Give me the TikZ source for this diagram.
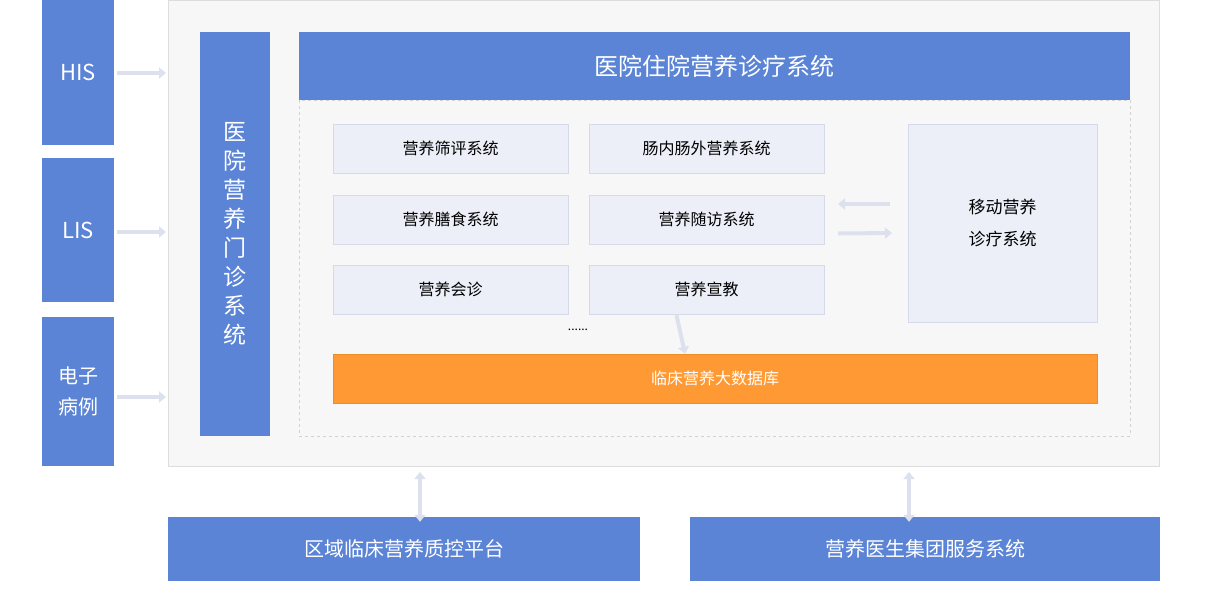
\documentclass[tikz,border=0pt]{standalone}
\usepackage{fontspec}
\setmainfont{Noto Sans CJK SC}
\usetikzlibrary{arrows.meta}
\definecolor{blueA}{HTML}{5B84D6}
\definecolor{grayArr}{HTML}{DDE1EE}
\definecolor{cellFill}{HTML}{ECEEF8}
\definecolor{cellLine}{HTML}{D6DAE8}
\definecolor{orangeA}{HTML}{FF9933}
\begin{document}
\begin{tikzpicture}[x=1pt,y=-1pt]
    \tikzset{bluebox/.style = {fill=blueA, text=white, inner sep=0pt},
        cell/.style  = {fill=cellFill, draw=cellLine, inner sep=0pt,
            minimum width=235pt, minimum height=49pt, font=\fontsize{16}{18}\selectfont},
        flow/.style  = {grayArr, line width=4pt, -{Triangle[length=7pt,width=11pt]}},
        both/.style  = {grayArr, line width=4pt, {Triangle[length=7pt,width=11pt]}-{Triangle[length=7pt,width=11pt]}}
        }

    \useasboundingbox (0,0) rectangle (1205,589);

    % Outer frame and inner areas.
    \draw[fill={rgb,255:red,247;green,247;blue,247}, draw={rgb,255:red,221;green,221;blue,221}] (168,0) rectangle (1159,466);
    \draw[dashed, draw={rgb,255:red,210;green,210;blue,210}] (299,100) rectangle (1130,436);

    % Sources on the left.
    \node[bluebox, minimum width=72pt, minimum height=145pt, font=\fontsize{22}{26}\selectfont] (his) at (78,72.5) {HIS};
    \node[bluebox, minimum width=72pt, minimum height=144pt, font=\fontsize{22}{26}\selectfont] (lis) at (78,230) {LIS};
    \node[bluebox, minimum width=72pt, minimum height=149pt, align=center, font=\fontsize{20}{31}\selectfont] (emr) at (78,391.5) {电子\\病例};
    \coordinate (hisIn) at (166,73);
    \coordinate (lisIn) at (166,232);
    \coordinate (emrIn) at (166,397);
    \draw[flow] (his.east) ++(3,0.5) -- (hisIn);
    \draw[flow] (lis.east) ++(3,2) -- (lisIn);
    \draw[flow] (emr.east) ++(3,5.5) -- (emrIn);

    % Outpatient and inpatient systems.
    \node[bluebox, minimum width=70pt, minimum height=404pt, align=center, font=\fontsize{23}{29}\selectfont] (clinic) at (235,234) {医\\院\\营\\养\\门\\诊\\系\\统};
    \node[bluebox, minimum width=831pt, minimum height=68pt, font=\fontsize{24}{28}\selectfont] (ward) at (714.5,66) {医院住院营养诊疗系统};

    % Module cells.
    \node[cell] (screen) at (450.5,148.5) {营养筛评系统};
    \node[cell] (enteral) at (706.5,148.5) {肠内肠外营养系统};
    \node[cell] (diet) at (450.5,219.5) {营养膳食系统};
    \node[cell] (follow) at (706.5,219.5) {营养随访系统};
    \node[cell] (consult) at (450.5,289.5) {营养会诊};
    \node[cell] (educ) at (706.5,289.5) {营养宣教};
    \node[font=\fontsize{12}{14}\selectfont] (dots) at (578,330) {......};
    \node[cell, minimum width=189pt, minimum height=198pt, align=center, font=\fontsize{17}{32}\selectfont] (mobile) at (1002.5,223) {移动营养\\诊疗系统};
    \node[fill=orangeA, draw={rgb,255:red,240;green,140;blue,40}, text=white, inner sep=0pt,
        minimum width=764pt, minimum height=49pt, font=\fontsize{16}{18}\selectfont] (data) at (715,378.5) {临床营养大数据库};

    \coordinate (mobL) at (838,204);
    \coordinate (mobR) at (892,233);
    \draw[flow] (mobile.west) ++(-18,-19) -- (mobL);
    \draw[flow] (follow.east) ++(14,14) -- (mobR);
    \draw[flow] (educ.south) ++(-30,1) -- ([xshift=-30pt]data.north);

    % Platforms below.
    \node[bluebox, minimum width=472pt, minimum height=64pt, font=\fontsize{20}{24}\selectfont] (region) at (404,549) {区域临床营养质控平台};
    \node[bluebox, minimum width=470pt, minimum height=64pt, font=\fontsize{20}{24}\selectfont] (group) at (925,549) {营养医生集团服务系统};
    \coordinate (frameA) at (420,472);
    \coordinate (frameB) at (909,472);
    \draw[both] (frameA) -- ([xshift=16pt,yshift=-5pt]region.north);
    \draw[both] (frameB) -- ([xshift=-16pt,yshift=-5pt]group.north);
\end{tikzpicture}
\end{document}
